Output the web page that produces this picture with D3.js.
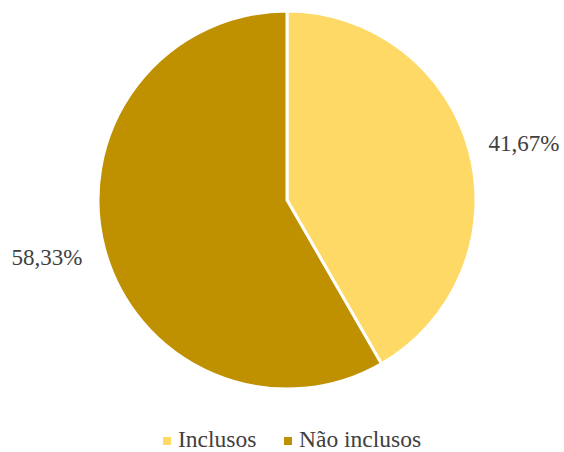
<!DOCTYPE html>
<html>
<head>
<meta charset="utf-8">
<script src="https://cdn.jsdelivr.net/npm/d3@7"></script>
</head>
<body style="margin:0">
<svg id="chart" width="564" height="452"></svg>
<script>
const categories = ['Inclusos', 'Não inclusos'];
const values = [41.67, 58.33];
const labels = ['41,67%', '58,33%'];
const colors = ['#FFD966', '#BF9000'];

const svg = d3.select('#chart');
const cx = 287, cy = 200, r = 189;

const pie = d3.pie().sort(null).value((d) => d);
const arcs = pie(values);
const arc = d3.arc().innerRadius(0).outerRadius(r);
const color = d3.scaleOrdinal().domain(categories).range(colors);

const g = svg.append('g').attr('transform', 'translate(' + cx + ',' + cy + ')');

g.selectAll('path')
	.data(arcs)
	.enter().append('path')
	.attr('d', arc)
	.attr('fill', (d, i) => color(categories[i]))
	.attr('stroke', '#fff')
	.attr('stroke-width', 3)
	.attr('stroke-linejoin', 'round');

// labels outside the pie, at the mid angle of each slice (placed on the svg itself)
const labelArcX = d3.arc().innerRadius(r + 58).outerRadius(r + 58);
const labelArcY = d3.arc().innerRadius(r + 33).outerRadius(r + 33);
svg.selectAll('text.pct')
	.data(arcs)
	.enter().append('text')
	.attr('class', 'pct')
	.attr('x', (d) => cx + labelArcX.centroid(d)[0] - 37)
	.attr('y', (d) => cy + labelArcY.centroid(d)[1] + 8)
	.style('font-family', "'Liberation Serif'")
	.style('font-size', '23px')
	.style('fill', '#404040')
	.text((d, i) => labels[i]);

// legend
const legendX = [163, 284];
svg.selectAll('rect.key')
	.data(categories)
	.enter().append('rect')
	.attr('class', 'key')
	.attr('x', (d, i) => legendX[i])
	.attr('y', 437)
	.attr('width', 8)
	.attr('height', 8)
	.attr('fill', (d) => color(d));
svg.selectAll('text.key')
	.data(categories)
	.enter().append('text')
	.attr('class', 'key')
	.attr('x', (d, i) => legendX[i] + 15)
	.attr('y', 447)
	.style('font-family', "'Liberation Serif'")
	.style('font-size', '23.5px')
	.style('fill', '#404040')
	.text((d) => d);
</script>
</body>
</html>
